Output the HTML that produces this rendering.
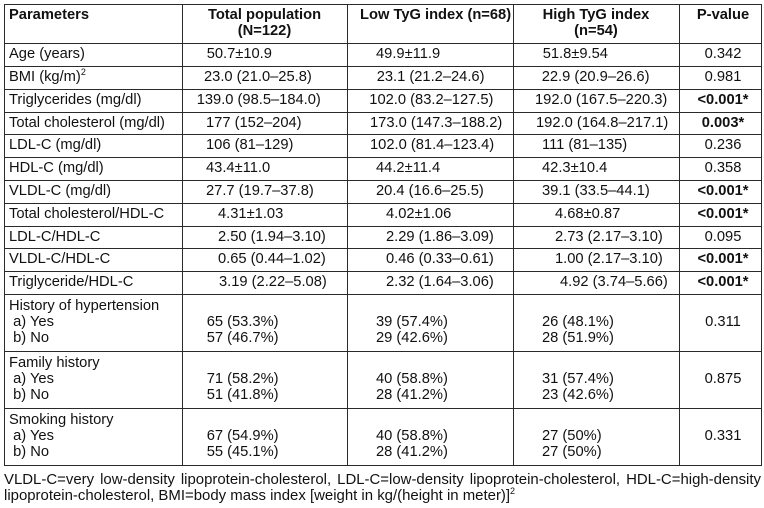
<!DOCTYPE html>
<html><head><meta charset="utf-8">
<style>
html,body{margin:0;padding:0;background:#fff;}
body{width:764px;height:508px;position:relative;overflow:hidden;font-family:"Liberation Sans",Arial,sans-serif;font-size:14.7px;color:#111;}
.h{position:absolute;left:4px;width:758px;height:1px;background:#2a2a2a;}
.v{position:absolute;top:4px;height:462px;width:1px;background:#2a2a2a;}
.t{position:absolute;white-space:nowrap;}
.b{font-weight:bold;}
.c{text-align:center;}
sup{font-size:9px;vertical-align:0;position:relative;top:-6px;}
.r{height:22.82px;line-height:22.82px;}
.l16{line-height:16px;}
.s{height:57px;line-height:57px;}
.fn{position:absolute;left:4px;top:472px;width:757px;line-height:16px;text-align:justify;font-size:14.95px;}
</style></head><body>
<!-- horizontal lines -->
<div class="h" style="top:4px"></div>
<div class="h" style="top:43px"></div>
<div class="h" style="top:65.8px"></div>
<div class="h" style="top:88.6px"></div>
<div class="h" style="top:111.5px"></div>
<div class="h" style="top:134.3px"></div>
<div class="h" style="top:157.1px"></div>
<div class="h" style="top:179.9px"></div>
<div class="h" style="top:202.7px"></div>
<div class="h" style="top:225.6px"></div>
<div class="h" style="top:248.4px"></div>
<div class="h" style="top:271.2px"></div>
<div class="h" style="top:294px"></div>
<div class="h" style="top:351px"></div>
<div class="h" style="top:408px"></div>
<div class="h" style="top:465px"></div>
<!-- vertical lines -->
<div class="v" style="left:4px"></div>
<div class="v" style="left:182px"></div>
<div class="v" style="left:347px"></div>
<div class="v" style="left:513px"></div>
<div class="v" style="left:679px"></div>
<div class="v" style="left:761px"></div>

<!-- header -->
<div class="t b l16" style="left:9px;top:7px">Parameters</div>
<div class="t b l16 c" style="left:182px;width:165px;top:7px">Total population<br>(N=122)</div>
<div class="t b l16" style="left:360px;top:7px">Low TyG index (n=68)</div>
<div class="t b l16 c" style="left:513px;width:166px;top:7px">High TyG index<br>(n=54)</div>
<div class="t b l16 c" style="left:685px;width:76px;top:7px">P-value</div>

<!-- row 0 -->
<div class="t r" style="left:9px;top:43px">Age (years)</div>
<div class="t r" style="left:206.7px;top:43px">50.7±10.9</div>
<div class="t r" style="left:376px;top:43px">49.9±11.9</div>
<div class="t r" style="left:542.7px;top:43px">51.8±9.54</div>
<div class="t r c" style="left:685px;width:76px;top:43px">0.342</div>
<!-- row 1 -->
<div class="t r" style="left:9px;top:65.8px">BMI (kg/m)<sup>2</sup></div>
<div class="t r" style="left:204px;top:65.8px">23.0 (21.0–25.8)</div>
<div class="t r" style="left:376.7px;top:65.8px">23.1 (21.2–24.6)</div>
<div class="t r" style="left:541.7px;top:65.8px">22.9 (20.9–26.6)</div>
<div class="t r c" style="left:685px;width:76px;top:65.8px">0.981</div>
<!-- row 2 -->
<div class="t r" style="left:9px;top:88.6px">Triglycerides (mg/dl)</div>
<div class="t r" style="left:196.7px;top:88.6px">139.0 (98.5–184.0)</div>
<div class="t r" style="left:369.3px;top:88.6px">102.0 (83.2–127.5)</div>
<div class="t r" style="left:535px;top:88.6px">192.0 (167.5–220.3)</div>
<div class="t r c b" style="left:685px;width:76px;top:88.6px">&lt;0.001*</div>
<!-- row 3 -->
<div class="t r" style="left:9px;top:111.5px">Total cholesterol (mg/dl)</div>
<div class="t r" style="left:206px;top:111.5px">177 (152–204)</div>
<div class="t r" style="left:370px;top:111.5px">173.0 (147.3–188.2)</div>
<div class="t r" style="left:536px;top:111.5px">192.0 (164.8–217.1)</div>
<div class="t r c b" style="left:685px;width:76px;top:111.5px">0.003*</div>
<!-- row 4 -->
<div class="t r" style="left:9px;top:134.3px">LDL-C (mg/dl)</div>
<div class="t r" style="left:206px;top:134.3px">106 (81–129)</div>
<div class="t r" style="left:370px;top:134.3px">102.0 (81.4–123.4)</div>
<div class="t r" style="left:542px;top:134.3px">111 (81–135)</div>
<div class="t r c" style="left:685px;width:76px;top:134.3px">0.236</div>
<!-- row 5 -->
<div class="t r" style="left:9px;top:157.1px">HDL-C (mg/dl)</div>
<div class="t r" style="left:206px;top:157.1px">43.4±11.0</div>
<div class="t r" style="left:376px;top:157.1px">44.2±11.4</div>
<div class="t r" style="left:542px;top:157.1px">42.3±10.4</div>
<div class="t r c" style="left:685px;width:76px;top:157.1px">0.358</div>
<!-- row 6 -->
<div class="t r" style="left:9px;top:179.9px">VLDL-C (mg/dl)</div>
<div class="t r" style="left:206px;top:179.9px">27.7 (19.7–37.8)</div>
<div class="t r" style="left:376px;top:179.9px">20.4 (16.6–25.5)</div>
<div class="t r" style="left:542px;top:179.9px">39.1 (33.5–44.1)</div>
<div class="t r c b" style="left:685px;width:76px;top:179.9px">&lt;0.001*</div>
<!-- row 7 -->
<div class="t r" style="left:9px;top:202.7px">Total cholesterol/HDL-C</div>
<div class="t r" style="left:218px;top:202.7px">4.31±1.03</div>
<div class="t r" style="left:386px;top:202.7px">4.02±1.06</div>
<div class="t r" style="left:555px;top:202.7px">4.68±0.87</div>
<div class="t r c b" style="left:685px;width:76px;top:202.7px">&lt;0.001*</div>
<!-- row 8 -->
<div class="t r" style="left:9px;top:225.6px">LDL-C/HDL-C</div>
<div class="t r" style="left:218px;top:225.6px">2.50 (1.94–3.10)</div>
<div class="t r" style="left:386px;top:225.6px">2.29 (1.86–3.09)</div>
<div class="t r" style="left:555px;top:225.6px">2.73 (2.17–3.10)</div>
<div class="t r c" style="left:685px;width:76px;top:225.6px">0.095</div>
<!-- row 9 -->
<div class="t r" style="left:9px;top:248.4px">VLDL-C/HDL-C</div>
<div class="t r" style="left:218px;top:248.4px">0.65 (0.44–1.02)</div>
<div class="t r" style="left:386px;top:248.4px">0.46 (0.33–0.61)</div>
<div class="t r" style="left:555px;top:248.4px">1.00 (2.17–3.10)</div>
<div class="t r c b" style="left:685px;width:76px;top:248.4px">&lt;0.001*</div>
<!-- row 10 -->
<div class="t r" style="left:9px;top:271.2px">Triglyceride/HDL-C</div>
<div class="t r" style="left:219px;top:271.2px">3.19 (2.22–5.08)</div>
<div class="t r" style="left:386px;top:271.2px">2.32 (1.64–3.06)</div>
<div class="t r" style="left:560px;top:271.2px">4.92 (3.74–5.66)</div>
<div class="t r c b" style="left:685px;width:76px;top:271.2px">&lt;0.001*</div>

<!-- section 1 -->
<div class="t l16" style="left:9px;top:298px">History of hypertension<br>&nbsp;a) Yes<br>&nbsp;b) No</div>
<div class="t l16" style="left:206.7px;top:314px">65 (53.3%)<br>57 (46.7%)</div>
<div class="t l16" style="left:376px;top:314px">39 (57.4%)<br>29 (42.6%)</div>
<div class="t l16" style="left:542px;top:314px">26 (48.1%)<br>28 (51.9%)</div>
<div class="t s c" style="left:685px;width:76px;top:294px">0.311</div>
<!-- section 2 -->
<div class="t l16" style="left:9px;top:355px">Family history<br>&nbsp;a) Yes<br>&nbsp;b) No</div>
<div class="t l16" style="left:206.7px;top:371px">71 (58.2%)<br>51 (41.8%)</div>
<div class="t l16" style="left:376px;top:371px">40 (58.8%)<br>28 (41.2%)</div>
<div class="t l16" style="left:542px;top:371px">31 (57.4%)<br>23 (42.6%)</div>
<div class="t s c" style="left:685px;width:76px;top:351px">0.875</div>
<!-- section 3 -->
<div class="t l16" style="left:9px;top:412px">Smoking history<br>&nbsp;a) Yes<br>&nbsp;b) No</div>
<div class="t l16" style="left:206.7px;top:428px">67 (54.9%)<br>55 (45.1%)</div>
<div class="t l16" style="left:376px;top:428px">40 (58.8%)<br>28 (41.2%)</div>
<div class="t l16" style="left:542px;top:428px">27 (50%)<br>27 (50%)</div>
<div class="t s c" style="left:685px;width:76px;top:408px">0.331</div>

<div class="fn">VLDL-C=very low-density lipoprotein-cholesterol, LDL-C=low-density lipoprotein-cholesterol, HDL-C=high-density lipoprotein-cholesterol, BMI=body mass index [weight in kg/(height in meter)]<sup>2</sup></div>
</body></html>
